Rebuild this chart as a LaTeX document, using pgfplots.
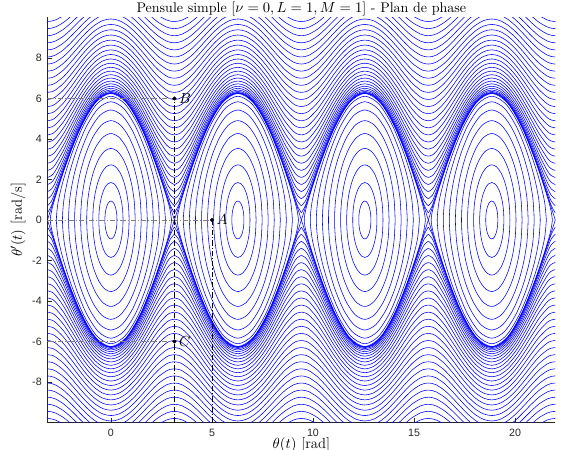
\documentclass[border=0pt]{standalone}
\usepackage{pgfplots}
\pgfplotsset{compat=1.18}
\usepackage{pgfplotstable}
\usepackage{fontspec}
\newfontfamily\ticksf{Liberation Sans}

% circulation curves, one period (theta from -pi to pi), omega >= 0; w0 = separatrix
\pgfplotstableread{
t w0 w1 w2 w3 w4 w5 w6 w7 w8 w9 w10 w11 w12 w13 w14 w15 w16 w17 w18 w19 w20 w21 w22 w23 w24 w25 w26 w27 w28
-3.14159 0 0.35 0.70 1.05 1.40 1.75 2.10 2.45 2.80 3.15 3.50 3.85 4.20 4.55 4.90 5.25 5.60 5.95 6.30 6.65 7.00 7.35 7.70 8.05 8.40 8.75 9.10 9.45 9.80
-2.94524 0.614 0.707 0.931 1.216 1.529 1.855 2.188 2.526 2.866 3.209 3.553 3.899 4.245 4.591 4.938 5.286 5.634 5.982 6.330 6.678 7.027 7.376 7.724 8.073 8.422 8.771 9.121 9.470 9.819
-2.74889 1.222 1.271 1.408 1.611 1.858 2.134 2.430 2.738 3.055 3.379 3.707 4.039 4.374 4.711 5.050 5.390 5.732 6.074 6.417 6.761 7.106 7.451 7.796 8.142 8.488 8.835 9.182 9.529 9.876
-2.35619 2.397 2.423 2.497 2.617 2.776 2.968 3.187 3.428 3.686 3.958 4.242 4.535 4.836 5.143 5.455 5.772 6.092 6.415 6.741 7.069 7.399 7.731 8.065 8.399 8.735 9.072 9.411 9.749 10.089
-1.96350 3.480 3.498 3.550 3.635 3.751 3.895 4.065 4.256 4.467 4.694 4.936 5.190 5.455 5.728 6.010 6.299 6.593 6.893 7.197 7.506 7.817 8.132 8.450 8.770 9.092 9.417 9.743 10.071 10.400
-1.57080 4.430 4.443 4.484 4.552 4.645 4.763 4.902 5.062 5.240 5.435 5.645 5.869 6.104 6.350 6.605 6.869 7.140 7.418 7.701 7.990 8.284 8.581 8.883 9.188 9.496 9.807 10.121 10.437 10.755
-1.17810 5.209 5.220 5.255 5.313 5.393 5.495 5.616 5.756 5.913 6.087 6.275 6.477 6.691 6.916 7.151 7.395 7.648 7.908 8.174 8.447 8.725 9.008 9.296 9.588 9.884 10.183 10.485 10.790 11.098
-0.78540 5.787 5.798 5.830 5.882 5.954 6.046 6.157 6.285 6.429 6.589 6.763 6.951 7.151 7.362 7.583 7.814 8.053 8.300 8.555 8.816 9.083 9.355 9.632 9.914 10.201 10.491 10.784 11.081 11.381
-0.39270 6.144 6.154 6.184 6.233 6.301 6.388 6.493 6.614 6.752 6.904 7.071 7.251 7.442 7.645 7.859 8.081 8.313 8.553 8.800 9.054 9.314 9.580 9.851 10.127 10.407 10.692 10.980 11.272 11.567
0 6.264 6.274 6.303 6.352 6.419 6.504 6.607 6.726 6.862 7.012 7.176 7.353 7.542 7.742 7.953 8.173 8.402 8.640 8.884 9.136 9.394 9.657 9.926 10.200 10.479 10.761 11.048 11.338 11.631
0.39270 6.144 6.154 6.184 6.233 6.301 6.388 6.493 6.614 6.752 6.904 7.071 7.251 7.442 7.645 7.859 8.081 8.313 8.553 8.800 9.054 9.314 9.580 9.851 10.127 10.407 10.692 10.980 11.272 11.567
0.78540 5.787 5.798 5.830 5.882 5.954 6.046 6.157 6.285 6.429 6.589 6.763 6.951 7.151 7.362 7.583 7.814 8.053 8.300 8.555 8.816 9.083 9.355 9.632 9.914 10.201 10.491 10.784 11.081 11.381
1.17810 5.209 5.220 5.255 5.313 5.393 5.495 5.616 5.756 5.913 6.087 6.275 6.477 6.691 6.916 7.151 7.395 7.648 7.908 8.174 8.447 8.725 9.008 9.296 9.588 9.884 10.183 10.485 10.790 11.098
1.57080 4.430 4.443 4.484 4.552 4.645 4.763 4.902 5.062 5.240 5.435 5.645 5.869 6.104 6.350 6.605 6.869 7.140 7.418 7.701 7.990 8.284 8.581 8.883 9.188 9.496 9.807 10.121 10.437 10.755
1.96350 3.480 3.498 3.550 3.635 3.751 3.895 4.065 4.256 4.467 4.694 4.936 5.190 5.455 5.728 6.010 6.299 6.593 6.893 7.197 7.506 7.817 8.132 8.450 8.770 9.092 9.417 9.743 10.071 10.400
2.35619 2.397 2.423 2.497 2.617 2.776 2.968 3.187 3.428 3.686 3.958 4.242 4.535 4.836 5.143 5.455 5.772 6.092 6.415 6.741 7.069 7.399 7.731 8.065 8.399 8.735 9.072 9.411 9.749 10.089
2.74889 1.222 1.271 1.408 1.611 1.858 2.134 2.430 2.738 3.055 3.379 3.707 4.039 4.374 4.711 5.050 5.390 5.732 6.074 6.417 6.761 7.106 7.451 7.796 8.142 8.488 8.835 9.182 9.529 9.876
2.94524 0.614 0.707 0.931 1.216 1.529 1.855 2.188 2.526 2.866 3.209 3.553 3.899 4.245 4.591 4.938 5.286 5.634 5.982 6.330 6.678 7.027 7.376 7.724 8.073 8.422 8.771 9.121 9.470 9.819
3.14159 0 0.35 0.70 1.05 1.40 1.75 2.10 2.45 2.80 3.15 3.50 3.85 4.20 4.55 4.90 5.25 5.60 5.95 6.30 6.65 7.00 7.35 7.70 8.05 8.40 8.75 9.10 9.45 9.80
}\rot

% oscillation curves around theta = 0 (closed loops, first point repeated)
\pgfplotstableread{
x1 y1 x2 y2 x3 y3 x4 y4 x5 y5 x6 y6 x7 y7 x8 y8 x9 y9 x10 y10
0.3 0 0.6 0 0.9 0 1.2 0 1.5 0 1.8 0 2.1 0 2.4 0 2.7 0 3.0 0
0.2898 0.2415 0.5796 0.4723 0.8693 0.6822 1.1591 0.8610 1.4489 0.9990 1.7387 1.0860 2.0285 1.1118 2.3182 1.0634 2.6080 0.9194 2.8978 0.6196
0.2598 0.4667 0.5196 0.9150 0.7794 1.3266 1.0392 1.6839 1.2990 1.9694 1.5588 2.1661 1.8187 2.2565 2.0785 2.2203 2.3383 2.0286 2.5981 1.6220
0.2121 0.6607 0.4243 1.2990 0.6364 1.8929 0.8485 2.4210 1.0607 2.8622 1.2728 3.1966 1.4849 3.4041 1.6971 3.4637 1.9092 3.3503 2.1213 3.0265
0.15 0.8099 0.3 1.5971 0.45 2.3390 0.6 3.0139 0.75 3.6011 0.9 4.0809 1.05 4.4348 1.2 4.6451 1.35 4.6941 1.5 4.5620
0.0776 0.9040 0.1553 1.7863 0.2329 2.6257 0.3106 3.4017 0.3882 4.0954 0.4659 4.6890 0.5435 5.1670 0.6212 5.5157 0.6988 5.7236 0.7765 5.7810
0 0.9361 0 1.8512 0 2.7247 0 3.5370 0 4.2699 0 4.9069 0 5.4337 0 5.8384 0 6.1121 0 6.2485
-0.0776 0.9040 -0.1553 1.7863 -0.2329 2.6257 -0.3106 3.4017 -0.3882 4.0954 -0.4659 4.6890 -0.5435 5.1670 -0.6212 5.5157 -0.6988 5.7236 -0.7765 5.7810
-0.15 0.8099 -0.3 1.5971 -0.45 2.3390 -0.6 3.0139 -0.75 3.6011 -0.9 4.0809 -1.05 4.4348 -1.2 4.6451 -1.35 4.6941 -1.5 4.5620
-0.2121 0.6607 -0.4243 1.2990 -0.6364 1.8929 -0.8485 2.4210 -1.0607 2.8622 -1.2728 3.1966 -1.4849 3.4041 -1.6971 3.4637 -1.9092 3.3503 -2.1213 3.0265
-0.2598 0.4667 -0.5196 0.9150 -0.7794 1.3266 -1.0392 1.6839 -1.2990 1.9694 -1.5588 2.1661 -1.8187 2.2565 -2.0785 2.2203 -2.3383 2.0286 -2.5981 1.6220
-0.2898 0.2415 -0.5796 0.4723 -0.8693 0.6822 -1.1591 0.8610 -1.4489 0.9990 -1.7387 1.0860 -2.0285 1.1118 -2.3182 1.0634 -2.6080 0.9194 -2.8978 0.6196
-0.3 0 -0.6 0 -0.9 0 -1.2 0 -1.5 0 -1.8 0 -2.1 0 -2.4 0 -2.7 0 -3.0 0
-0.2898 -0.2415 -0.5796 -0.4723 -0.8693 -0.6822 -1.1591 -0.8610 -1.4489 -0.9990 -1.7387 -1.0860 -2.0285 -1.1118 -2.3182 -1.0634 -2.6080 -0.9194 -2.8978 -0.6196
-0.2598 -0.4667 -0.5196 -0.9150 -0.7794 -1.3266 -1.0392 -1.6839 -1.2990 -1.9694 -1.5588 -2.1661 -1.8187 -2.2565 -2.0785 -2.2203 -2.3383 -2.0286 -2.5981 -1.6220
-0.2121 -0.6607 -0.4243 -1.2990 -0.6364 -1.8929 -0.8485 -2.4210 -1.0607 -2.8622 -1.2728 -3.1966 -1.4849 -3.4041 -1.6971 -3.4637 -1.9092 -3.3503 -2.1213 -3.0265
-0.15 -0.8099 -0.3 -1.5971 -0.45 -2.3390 -0.6 -3.0139 -0.75 -3.6011 -0.9 -4.0809 -1.05 -4.4348 -1.2 -4.6451 -1.35 -4.6941 -1.5 -4.5620
-0.0776 -0.9040 -0.1553 -1.7863 -0.2329 -2.6257 -0.3106 -3.4017 -0.3882 -4.0954 -0.4659 -4.6890 -0.5435 -5.1670 -0.6212 -5.5157 -0.6988 -5.7236 -0.7765 -5.7810
0 -0.9361 0 -1.8512 0 -2.7247 0 -3.5370 0 -4.2699 0 -4.9069 0 -5.4337 0 -5.8384 0 -6.1121 0 -6.2485
0.0776 -0.9040 0.1553 -1.7863 0.2329 -2.6257 0.3106 -3.4017 0.3882 -4.0954 0.4659 -4.6890 0.5435 -5.1670 0.6212 -5.5157 0.6988 -5.7236 0.7765 -5.7810
0.15 -0.8099 0.3 -1.5971 0.45 -2.3390 0.6 -3.0139 0.75 -3.6011 0.9 -4.0809 1.05 -4.4348 1.2 -4.6451 1.35 -4.6941 1.5 -4.5620
0.2121 -0.6607 0.4243 -1.2990 0.6364 -1.8929 0.8485 -2.4210 1.0607 -2.8622 1.2728 -3.1966 1.4849 -3.4041 1.6971 -3.4637 1.9092 -3.3503 2.1213 -3.0265
0.2598 -0.4667 0.5196 -0.9150 0.7794 -1.3266 1.0392 -1.6839 1.2990 -1.9694 1.5588 -2.1661 1.8187 -2.2565 2.0785 -2.2203 2.3383 -2.0286 2.5981 -1.6220
0.2898 -0.2415 0.5796 -0.4723 0.8693 -0.6822 1.1591 -0.8610 1.4489 -0.9990 1.7387 -1.0860 2.0285 -1.1118 2.3182 -1.0634 2.6080 -0.9194 2.8978 -0.6196
0.3 0 0.6 0 0.9 0 1.2 0 1.5 0 1.8 0 2.1 0 2.4 0 2.7 0 3.0 0
}\lib

\definecolor{axgray}{rgb}{0.15,0.15,0.15}
\pgfplotsset{
  cl/.style={blue, line width=0.42pt, smooth},
  guide/.style={line width=0.5pt, dash pattern=on 4pt off 1.5pt on 0.8pt off 1.5pt},
}

\newcommand\rotcurve[1]{%
  \addplot[cl] table[x=t, y=w#1] {\rot};
  \addplot[cl] table[x expr=\thisrow{t}+6.28319, y=w#1] {\rot};
  \addplot[cl] table[x expr=\thisrow{t}+12.56637, y=w#1] {\rot};
  \addplot[cl] table[x expr=\thisrow{t}+18.84956, y=w#1] {\rot};
  \addplot[cl] table[x=t, y expr=-\thisrow{w#1}] {\rot};
  \addplot[cl] table[x expr=\thisrow{t}+6.28319, y expr=-\thisrow{w#1}] {\rot};
  \addplot[cl] table[x expr=\thisrow{t}+12.56637, y expr=-\thisrow{w#1}] {\rot};
  \addplot[cl] table[x expr=\thisrow{t}+18.84956, y expr=-\thisrow{w#1}] {\rot};
}
\newcommand\libcurve[1]{%
  \addplot[cl] table[x=x#1, y=y#1] {\lib};
  \addplot[cl] table[x expr=\thisrow{x#1}+6.28319, y=y#1] {\lib};
  \addplot[cl] table[x expr=\thisrow{x#1}+12.56637, y=y#1] {\lib};
  \addplot[cl] table[x expr=\thisrow{x#1}+18.84956, y=y#1] {\lib};
}

\begin{document}
\begin{tikzpicture}
\begin{axis}[
  scale only axis,
  width=380.8pt, height=303.75pt,
  xmin=-3.14159, xmax=21.99115,
  ymin=-10, ymax=10,
  axis x line*=bottom, axis y line*=left,
  axis line style={-, axgray, line width=0.4pt},
  tick align=inside,
  major tick length=3.5pt,
  tick style={axgray, line width=0.4pt},
  xtick={0,5,10,15,20},
  ytick={-8,-6,-4,-2,0,2,4,6,8},
  /pgf/number format/assume math mode=true,
  tick label style={font=\ticksf\fontsize{8}{9}\selectfont, text=axgray},
  xticklabel style={anchor=base, yshift=-10.5pt},
  yticklabel style={xshift=-0.8pt},
  title={Pensule simple [$\nu = 0, L = 1, M = 1$] - Plan de phase},
  every axis title shift=0pt,
  title style={at={(axis description cs:0.5,1)}, anchor=base, yshift=3.4pt,
    font=\fontsize{10.5}{12}\selectfont},
  xlabel={$\theta(t)$ [rad]},
  xlabel style={at={(axis description cs:0.5,0)}, anchor=base, yshift=-19.6pt,
    font=\fontsize{11}{13}\selectfont},
  ylabel={$\theta'(t)$ [rad/s]},
  ylabel style={at={(axis description cs:-0.058,0.5)}, anchor=center,
    font=\fontsize{11}{13}\selectfont},
]
  \pgfplotsinvokeforeach{0,...,28}{\rotcurve{#1}}
  \pgfplotsinvokeforeach{1,...,10}{\libcurve{#1}}

  % guide lines to the marked states
  \addplot[guide, gray] coordinates {(-3.14159,6) (3.14159,6)};
  \addplot[guide, gray] coordinates {(-3.14159,0) (5,0)};
  \addplot[guide, gray] coordinates {(-3.14159,-6) (3.14159,-6)};
  \addplot[guide, black] coordinates {(3.14159,-10) (3.14159,6)};
  \addplot[guide, black] coordinates {(5,-10) (5,0)};

  \addplot[only marks, mark=*, mark size=1.3pt, black] coordinates {(5,0)}
    node[right, font=\fontsize{11}{13}\selectfont] {$A$};
  \addplot[only marks, mark=*, mark size=1.3pt, black] coordinates {(3.14159,6)}
    node[right, font=\fontsize{11}{13}\selectfont] {$B$};
  \addplot[only marks, mark=*, mark size=1.3pt, black] coordinates {(3.14159,-6)}
    node[right, font=\fontsize{11}{13}\selectfont] {$C$};
\end{axis}
\pgfresetboundingbox
\path ([xshift=-35.6pt, yshift=-19.9pt]current axis.south west)
  rectangle ([xshift=4.3pt, yshift=13.1pt]current axis.north east);
\end{tikzpicture}
\end{document}
